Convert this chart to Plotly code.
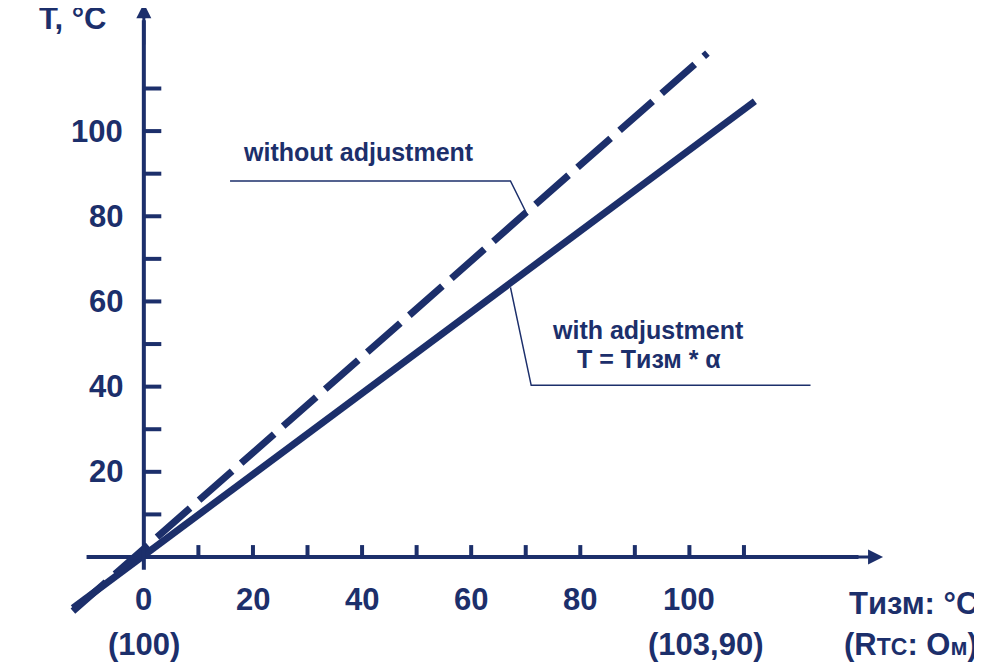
import plotly.graph_objects as go

# data
x_ticks = [10, 20, 30, 40, 50, 60, 70, 80, 90, 100, 110]
x_labels = [0, 20, 40, 60, 80, 100]
y_ticks = [10, 20, 30, 40, 50, 60, 70, 80, 90, 100, 110]
y_labels = [20, 40, 60, 80, 100]
dash_x = [-13, 103.3]
dash_y = [-12.7, 118.3]
solid_x = [-13, 112]
solid_y = [-12.0, 107]

navy = "#1c2f6b"
font = dict(family="Liberation Sans, Arial", size=31, color=navy)

fig = go.Figure()
fig.add_trace(go.Scatter(x=solid_x, y=solid_y, mode="lines",
                         line=dict(color=navy, width=7)))
fig.add_trace(go.Scatter(x=dash_x, y=dash_y, mode="lines",
                         line=dict(color=navy, width=7, dash="44px,12px")))

shapes = []
# axes
shapes.append(dict(type="line", x0=-10.5, y0=0, x1=131, y1=0, line=dict(color=navy, width=4)))
shapes.append(dict(type="line", x0=0, y0=-3, x1=0, y1=126, line=dict(color=navy, width=4)))
for t in x_ticks:
    shapes.append(dict(type="line", x0=t, y0=0, x1=t, y1=2.8, line=dict(color=navy, width=4)))
for t in y_ticks:
    shapes.append(dict(type="line", x0=0, y0=t, x1=3.2, y1=t, line=dict(color=navy, width=4)))
# pointer lines
shapes.append(dict(type="path", path="M 15.8,88.3 L 67.2,88.3 L 70.3,80.3",
                   line=dict(color=navy, width=1.5)))
shapes.append(dict(type="path", path="M 122.2,40.3 L 71,40.3 L 67.2,63.3",
                   line=dict(color=navy, width=1.5)))

anns = []
# arrow heads
anns.append(dict(x=135.5, y=0, ax=124, ay=0, xref="x", yref="y", axref="x", ayref="y",
                 showarrow=True, arrowhead=2, arrowsize=1, arrowwidth=3, arrowcolor=navy, text=""))
anns.append(dict(x=0, y=130, ax=0, ay=120, xref="x", yref="y", axref="x", ayref="y",
                 showarrow=True, arrowhead=2, arrowsize=1, arrowwidth=3, arrowcolor=navy, text=""))
for v in x_labels:
    anns.append(dict(x=v, y=-10, text=f"<b>{v}</b>", showarrow=False, font=font))
for v in y_labels:
    anns.append(dict(x=-3.5, y=v, text=f"<b>{v}</b>", showarrow=False, font=font, xanchor="right"))
anns.append(dict(x=-19.5, y=126.5, text="<b>T, °C</b>", showarrow=False, font=font, xanchor="left"))
anns.append(dict(x=0, y=-20.5, text="<b>(100)</b>", showarrow=False, font=font))
anns.append(dict(x=103, y=-20.5, text="<b>(103,90)</b>", showarrow=False, font=font))
anns.append(dict(x=153.3, y=-11, text="<b>Tизм: °C</b>", showarrow=False, font=font, xanchor="right"))
anns.append(dict(x=153.3, y=-20.5, text="<b>(R<span style='font-size:23px'>TC</span>: О<span style='font-size:23px'>м</span>)</b>",
                 showarrow=False, font=font, xanchor="right"))
small = dict(family="Liberation Sans, Arial", size=25, color=navy)
anns.append(dict(x=17.8, y=95.1, text="<b>without adjustment</b>", showarrow=False, font=small, xanchor="left"))
anns.append(dict(x=74.5, y=53.2, text="<b>with adjustment</b>", showarrow=False, font=small, xanchor="left"))
anns.append(dict(x=79, y=46.5, text="<b>T = Tизм * α</b>", showarrow=False, font=small, xanchor="left"))

fig.update_layout(
    width=982, height=664, margin=dict(l=0, r=0, t=0, b=0),
    plot_bgcolor="white", paper_bgcolor="white", showlegend=False,
    xaxis=dict(range=[-24.9, 155.1], visible=False, fixedrange=True),
    yaxis=dict(range=[-27.0, 128.9], visible=False, fixedrange=True),
    shapes=shapes, annotations=anns,
)
fig.write_html("out.html")
